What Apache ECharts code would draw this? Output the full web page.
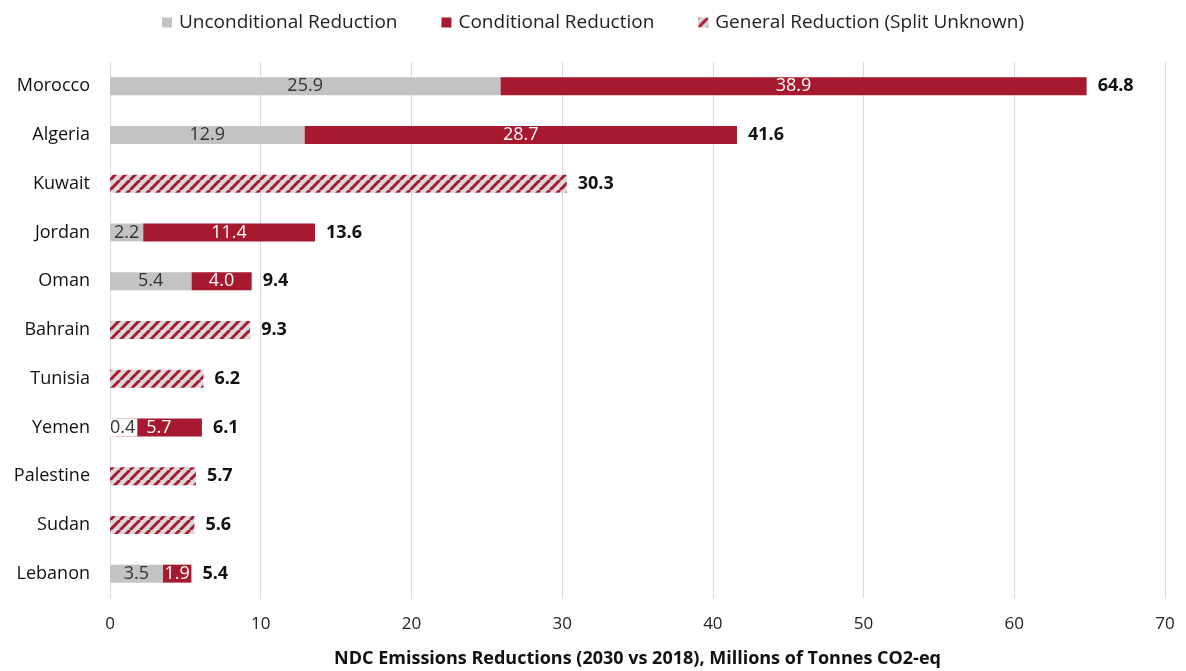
<!DOCTYPE html>
<html><head><meta charset="utf-8">
<script src="https://cdn.jsdelivr.net/npm/echarts@6/dist/echarts.min.js"></script>
<style>html,body{margin:0;padding:0;background:#fff}#c{width:1186px;height:671px}</style>
</head><body><div id="c"></div>
<script>
var countries = ['Morocco','Algeria','Kuwait','Jordan','Oman','Bahrain','Tunisia','Yemen','Palestine','Sudan','Lebanon'];
var unconditional = [25.9,12.9,null,2.2,5.4,null,null,0.4,null,null,3.5];
var conditional = [38.9,28.7,null,11.4,4.0,null,null,5.7,null,null,1.9];
var general = [null,null,30.3,null,null,9.3,6.2,null,5.7,5.6,null];
var totals = [64.8,41.6,30.3,13.6,9.4,9.3,6.2,6.1,5.7,5.6,5.4];
var xTicks = [0,10,20,30,40,50,60,70];

var GRAY = '#c3c3c3', RED = '#a6192e';
function hatch(){
  var s = 10, cv = document.createElement('canvas');
  cv.width = s; cv.height = s;
  var g = cv.getContext('2d');
  g.fillStyle = '#d9d9d9'; g.fillRect(0,0,s,s);
  g.strokeStyle = RED; g.lineWidth = 3;
  for (var k=-1;k<=1;k++){
    g.beginPath(); g.moveTo(k*s, s); g.lineTo(k*s+s, 0); g.stroke();
  }
  return cv;
}
var pat = {image: hatch(), repeat: 'repeat'};
var FONT = 'Open Sans';
var fmt = function(p){ return p.value==null ? '' : Number(p.value).toFixed(1); };

var chart = echarts.init(document.getElementById('c'));
chart.setOption({
  animation:false,
  textStyle:{fontFamily:FONT},
  legend:{top:8,left:'center',itemWidth:10,itemHeight:10,itemGap:44,
    textStyle:{fontSize:19,color:'#222',fontFamily:FONT,padding:[0,0,0,2]},
    data:[{name:'Unconditional Reduction',icon:'rect'},{name:'Conditional Reduction',icon:'rect'},{name:'General Reduction (Split Unknown)',icon:'rect'}]},
  grid:{left:110,right:21,top:62,bottom:73,outerBoundsMode:'none',containLabel:false},
  xAxis:{type:'value',min:0,max:70,interval:10,
    axisLine:{show:false},axisTick:{show:false},
    splitLine:{lineStyle:{color:'#d9d9d9',width:1}},
    axisLabel:{fontSize:17,color:'#222',margin:18,fontFamily:FONT,formatter:function(v){return xTicks.indexOf(v)>=0?String(v):'';}},
    name:'NDC Emissions Reductions (2030 vs 2018), Millions of Tonnes CO2-eq',
    nameLocation:'middle',nameGap:52,
    nameTextStyle:{fontSize:18,fontWeight:'bold',color:'#111',fontFamily:FONT}},
  yAxis:{type:'category',data:countries,inverse:true,
    axisLine:{show:false},axisTick:{show:false},
    axisLabel:{fontSize:18,color:'#111',margin:20,fontFamily:FONT}},
  series:[
    {name:'Unconditional Reduction',type:'bar',stack:'a',barWidth:18,z:3,data:unconditional.map(function(v,i){
        var d={value:v};
        if(countries[i]==='Yemen'){d.label={position:'insideLeft',distance:0,backgroundColor:'#fff',padding:[0,2,0,0]};}
        return d;}),
     itemStyle:{color:GRAY},
     label:{show:true,position:'inside',color:'#333',fontSize:18,fontFamily:FONT,formatter:fmt}},
    {name:'Conditional Reduction',type:'bar',stack:'a',barWidth:18,data:conditional,
     itemStyle:{color:RED},
     label:{show:true,position:'inside',color:'#fff',fontSize:18,fontFamily:FONT,formatter:fmt}},
    {name:'General Reduction (Split Unknown)',type:'bar',stack:'a',barWidth:18,data:general,
     itemStyle:{color:pat}},
    {name:'total',type:'bar',barWidth:18,barGap:'-100%',data:totals,
     itemStyle:{color:'rgba(0,0,0,0)'},silent:true,
     label:{show:true,position:'right',distance:11,color:'#111',fontWeight:'bold',fontSize:18,fontFamily:FONT,formatter:fmt}}
  ]
});
</script></body></html>
